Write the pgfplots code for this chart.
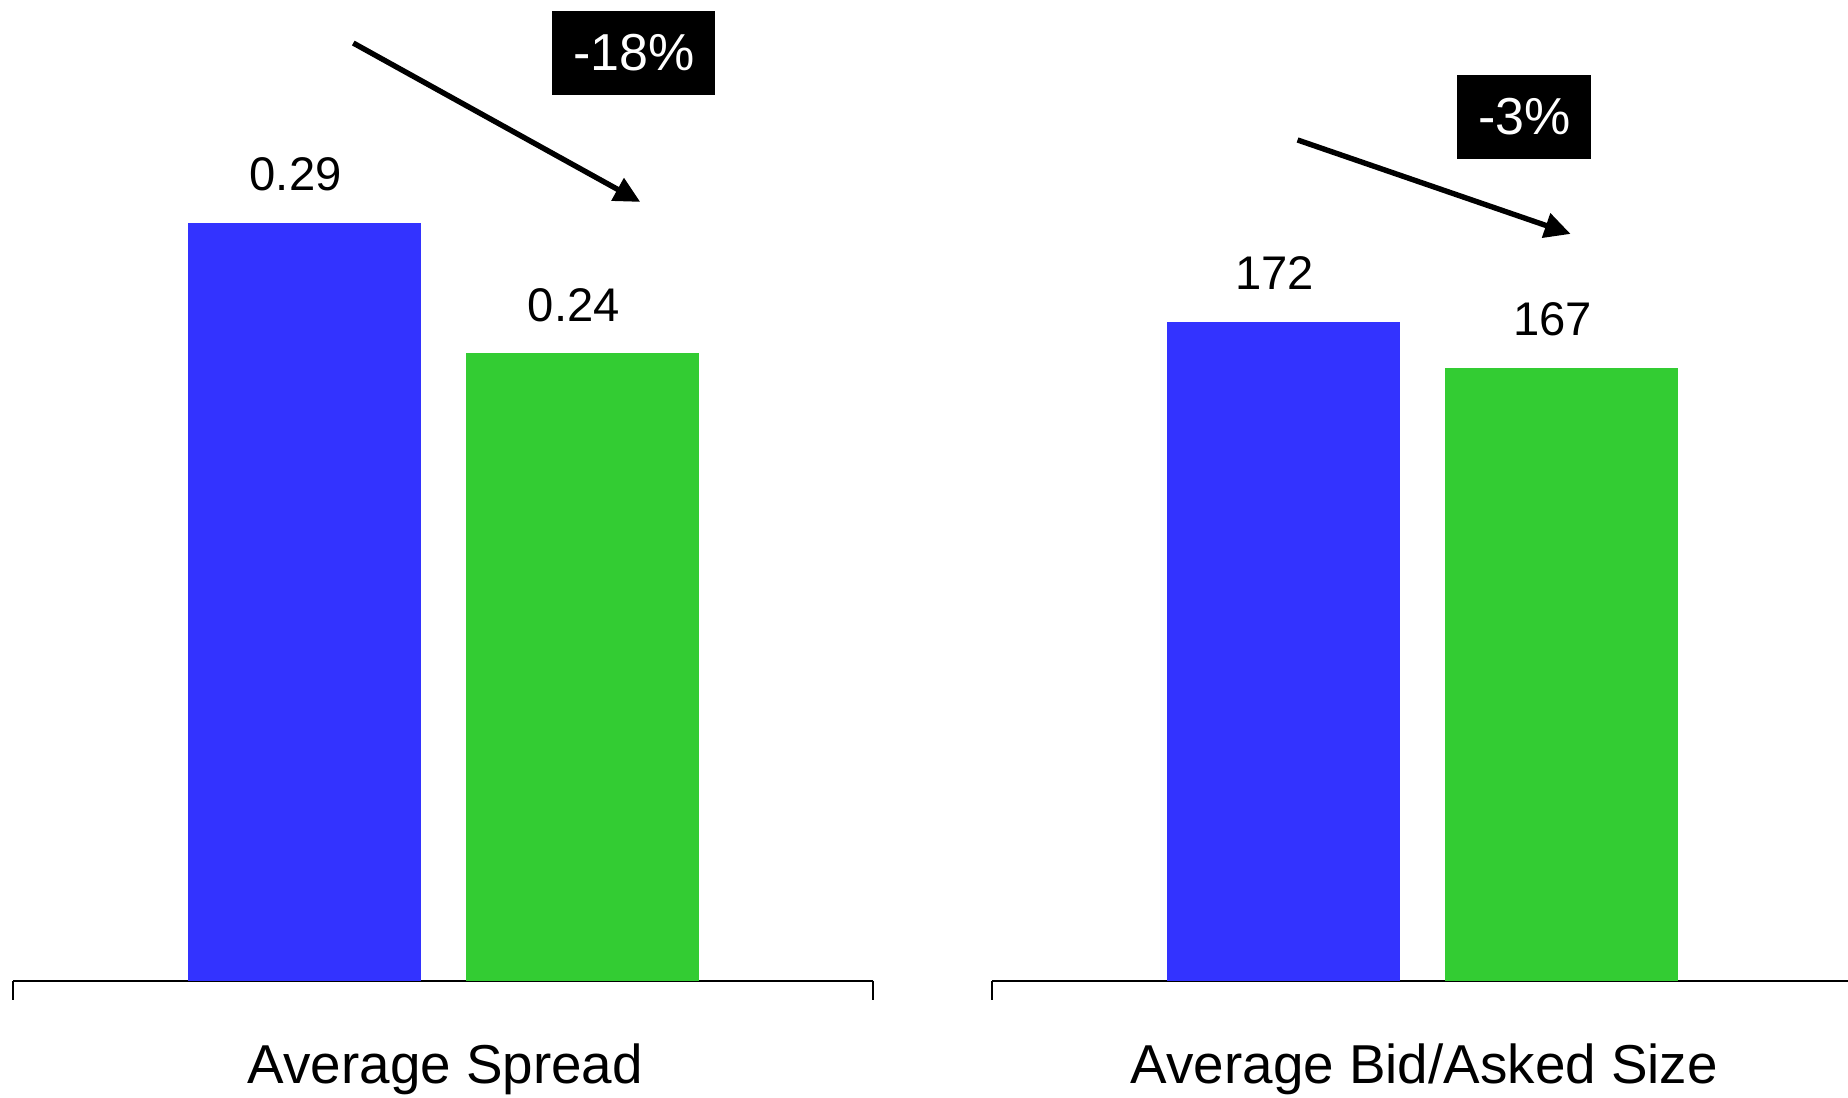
\documentclass[border=0pt]{standalone}
\usepackage{fontspec}
\setmainfont{Liberation Sans}
\usepackage{pgfplots}
\pgfplotsset{compat=1.18}
\usetikzlibrary{arrows.meta}
\definecolor{barblue}{HTML}{3333FF}
\definecolor{bargreen}{HTML}{33CC33}
\pgfplotsset{
  mybars/.style={
    scale only axis,
    width=215pt, height=245.15pt,
    xmin=-1.0478, xmax=2.0446,
    axis x line*=bottom,
    axis y line=none,
    xtick=\empty, ytick=\empty,
    axis line style={black, line width=0.55pt},
    clip=false,
    ybar, bar width=0.84, bar shift=0pt,
    every axis plot/.append style={draw=none},
    nodes near coords={\pgfmathprintnumber[assume math mode=true]{\pgfplotspointmeta}},
    every node near coord/.append style={anchor=base, yshift=8.1pt, xshift=-2.2pt,
      font=\fontsize{11.8}{14}\selectfont, text=black},
  },
}
\tikzset{
  catlabel/.style={anchor=base, yshift=-25.6pt, xshift=0.6pt, font=\fontsize{13.7}{16}\selectfont},
  pctbox/.style={fill=black, text=white, inner sep=0pt, font=\fontsize{13}{15}\selectfont},
  bigarrow/.style={line width=1.35pt, -{Triangle[length=6.5pt,width=6.2pt]}},
  endtick/.style={line width=0.55pt},
}
\begin{document}
\begin{tikzpicture}
\path[use as bounding box] (0,0) rectangle (462pt,-274.5pt);
% Left panel
\begin{axis}[mybars, at={(3.25pt,-245.15pt)}, anchor=south west, ymin=0, ymax=0.37528]
  \addplot[fill=barblue] coordinates {(0,0.29)};
  \addplot[fill=bargreen] coordinates {(1,0.24)};
  \draw[endtick] (rel axis cs:0,0) -- ([yshift=-4.75pt]rel axis cs:0,0);
  \draw[endtick] (rel axis cs:1,0) -- ([yshift=-4.75pt]rel axis cs:1,0);
  \node[catlabel] at (rel axis cs:0.5,0) {Average Spread};
  \draw[bigarrow] (axis cs:0.1758,0.3588) -- (axis cs:1.2078,0.2980);
  \node[pctbox, minimum width=40.75pt, minimum height=21pt] at (axis cs:1.1845,0.35499) {-18\%};
\end{axis}
% Right panel
\begin{axis}[mybars, at={(248pt,-245.15pt)}, anchor=south west, ymin=100, ymax=207.17]
  \addplot[fill=barblue] coordinates {(0,172)};
  \addplot[fill=bargreen] coordinates {(1,167)};
  \draw[endtick] (rel axis cs:0,0) -- ([yshift=-4.75pt]rel axis cs:0,0);
  \node[catlabel] at (rel axis cs:0.5,0) {Average Bid/Asked Size};
  \draw[bigarrow] (axis cs:0.0509,191.87) -- (axis cs:1.0328,181.6);
  \node[pctbox, minimum width=33.5pt, minimum height=21pt] at (axis cs:0.8668,194.38) {-3\%};
\end{axis}
\end{tikzpicture}
\end{document}
